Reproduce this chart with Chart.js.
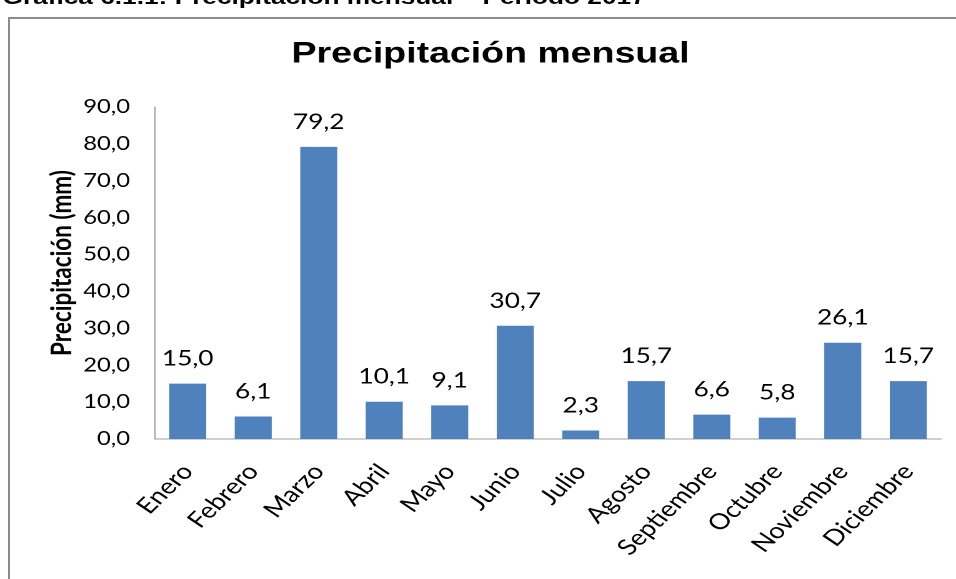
<!DOCTYPE html>
<html>
<head>
<meta charset="utf-8">
<script src="https://cdn.jsdelivr.net/npm/chart.js@4.4.1/dist/chart.umd.min.js"></script>
<style>
  html, body { margin: 0; padding: 0; background: #fff; overflow: hidden; width: 956px; height: 579px; }
  #frame { position: absolute; left: 8px; top: 17px; width: 1200px; height: 900px; border: 2px solid #8c8c8c; box-sizing: border-box; }
  /* the whole figure is laid out at 765px and widened to the page width */
  #stage { position: absolute; left: 0; top: 0; width: 765px; height: 579px; transform: scaleX(1.2497); transform-origin: 0 0; }
  #caption { position: absolute; left: 2px; top: -14px; font: bold 21px "Liberation Sans", Arial, sans-serif; line-height: 21px; white-space: nowrap; color: #000; }
  #wrap { position: absolute; left: 0; top: 0; width: 765px; height: 579px; }
</style>
</head>
<body>
<div id="frame"></div>
<div id="stage">
  <div id="caption">Gráfica 6.1.1: Precipitación mensual – Periodo 2017</div>
  <div id="wrap"><canvas id="c"></canvas></div>
</div>
<script>
// Monthly rainfall, 2017
const months = ['Enero', 'Febrero', 'Marzo', 'Abril', 'Mayo', 'Junio',
                'Julio', 'Agosto', 'Septiembre', 'Octubre', 'Noviembre', 'Diciembre'];
const precipitation = [15.0, 6.1, 79.2, 10.1, 9.1, 30.7, 2.3, 15.7, 6.6, 5.8, 26.1, 15.7];
const yTickValues = [0, 10, 20, 30, 40, 50, 60, 70, 80, 90];

const chartTitle = 'Precipitación mensual';
const yAxisTitle = 'Precipitación (mm)';

const fmt = v => v.toFixed(1).replace('.', ',');

// value printed above each bar
const valueLabels = {
  id: 'valueLabels',
  afterDatasetsDraw(chart) {
    const ctx = chart.ctx;
    const meta = chart.getDatasetMeta(0);
    ctx.save();
    ctx.font = '21px Lato, sans-serif';
    ctx.fillStyle = '#000';
    ctx.textAlign = 'center';
    ctx.textBaseline = 'alphabetic';
    meta.data.forEach((bar, i) => {
      ctx.fillText(fmt(precipitation[i]), bar.x, bar.y - 18);
    });
    ctx.restore();
  }
};

// vertical axis title, sitting a little above the middle of the plot
const yTitle = {
  id: 'yTitle',
  afterDraw(chart) {
    const ctx = chart.ctx;
    const area = chart.chartArea;
    ctx.save();
    ctx.translate(49.6, (area.top + area.bottom) / 2 - 10);
    ctx.rotate(-Math.PI / 2);
    ctx.font = 'bold 22.5px Lato, sans-serif';
    ctx.fillStyle = '#000';
    ctx.textAlign = 'center';
    ctx.textBaseline = 'middle';
    ctx.fillText(yAxisTitle, 0, 0);
    ctx.restore();
  }
};

new Chart(document.getElementById('c'), {
  type: 'bar',
  data: {
    labels: months,
    datasets: [{
      data: precipitation,
      backgroundColor: '#4f81bd',
      borderWidth: 0,
      barPercentage: 0.565,
      categoryPercentage: 1.0
    }]
  },
  options: {
    responsive: true,
    maintainAspectRatio: false,
    animation: false,
    devicePixelRatio: 2,
    layout: { padding: { top: 18, left: 32, right: 12, bottom: 0 } },
    plugins: {
      legend: { display: false },
      tooltip: { enabled: false },
      title: {
        display: true,
        text: chartTitle,
        color: '#000',
        font: { family: '"Liberation Sans", Arial, sans-serif', size: 30, weight: 'bold' },
        padding: { top: 18, bottom: 35 }
      }
    },
    scales: {
      x: {
        grid: { display: false, drawTicks: false },
        border: { display: true, color: '#a0a0a0', width: 1 },
        ticks: {
          color: '#000',
          font: { family: 'Lato, sans-serif', size: 22 },
          minRotation: 50,
          maxRotation: 50,
          autoSkip: false,
          padding: 20
        },
        afterFit(scale) {
          scale.height = 140;
          scale.paddingLeft = 0;
          scale.paddingRight = 0;
        }
      },
      y: {
        min: 0,
        max: 90,
        grid: { display: false, drawTicks: false },
        border: { display: true, color: '#a0a0a0', width: 1 },
        ticks: {
          color: '#000',
          font: { family: 'Lato, sans-serif', size: 19 },
          padding: 20,
          callback: v => fmt(v)
        },
        afterBuildTicks(scale) { scale.ticks = yTickValues.map(v => ({ value: v })); },
        afterFit(scale) { scale.width = 92; }
      }
    }
  },
  plugins: [valueLabels, yTitle]
});
</script>
</body>
</html>
